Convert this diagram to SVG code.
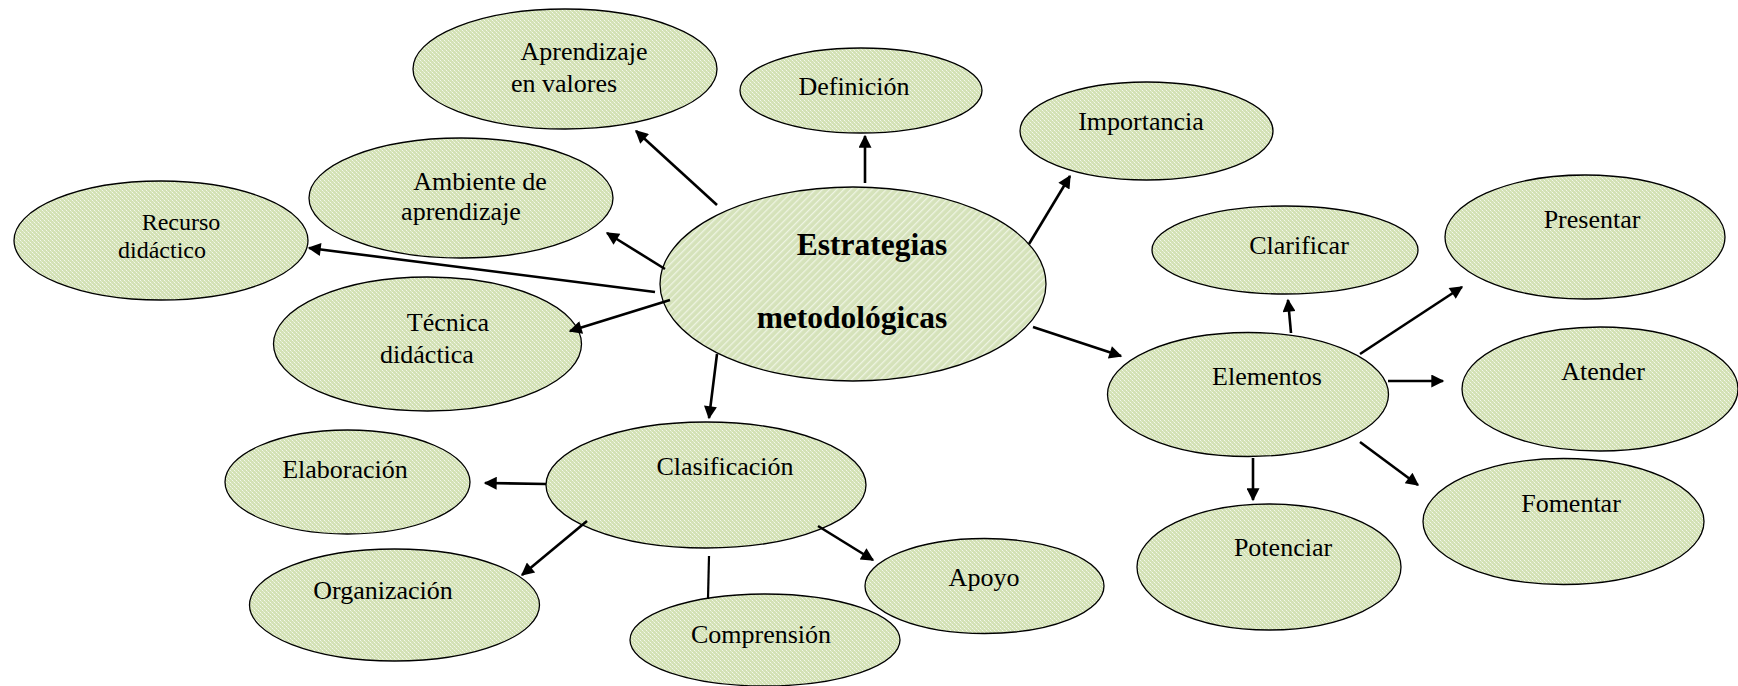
<svg xmlns="http://www.w3.org/2000/svg" width="1738" height="686" viewBox="0 0 1738 686">
<style>
.n{stroke:#000;stroke-width:1.3;fill:url(#chk)}
.c{stroke:#000;stroke-width:1.3;fill:url(#diag)}
.t text{font-size:26px;fill:#000;text-anchor:middle}
.t text.b{font-weight:bold;font-size:31.5px}
.t text.s{font-size:24px}
.e line{stroke:#000;stroke-width:2.6;marker-end:url(#ah)}
.e line.p{marker-end:none;stroke-width:2.2}
</style>
<defs>
<pattern id="chk" width="4" height="4" patternUnits="userSpaceOnUse">
<rect width="4" height="4" fill="#d3e1b5"/>
<rect x="0" y="0" width="1" height="1" fill="#f4f8ec"/>
<rect x="2" y="2" width="1" height="1" fill="#f4f8ec"/>
<rect x="1" y="1" width="1" height="1" fill="#e3ecd2"/>
<rect x="3" y="3" width="1" height="1" fill="#e3ecd2"/>
</pattern>
<pattern id="diag" width="5" height="5" patternUnits="userSpaceOnUse" patternTransform="rotate(-45)">
<rect width="5" height="5" fill="#d5e2ba"/>
<rect x="0" y="0" width="5" height="1.3" fill="#eef4e2"/>
</pattern>
<marker id="ah" viewBox="0 0 10 10" refX="9" refY="5" markerUnits="userSpaceOnUse" markerWidth="15" markerHeight="13" orient="auto">
<path d="M0,0 L10,5 L0,10 Z" fill="#000"/>
</marker>
</defs>

<g class="t" font-family="'Liberation Serif', 'DejaVu Serif', serif">
<g id="n-aprendizaje"><ellipse class="n" cx="565" cy="69" rx="152" ry="60"/><text x="584" y="60">Aprendizaje</text><text x="564" y="92">en valores</text></g>
<g id="n-definicion"><ellipse class="n" cx="861" cy="90.5" rx="121" ry="42.5"/><text x="854" y="95">Definición</text></g>
<g id="n-importancia"><ellipse class="n" cx="1146.5" cy="131" rx="126.5" ry="49"/><text x="1141" y="130">Importancia</text></g>
<g id="n-ambiente"><ellipse class="n" cx="461" cy="198" rx="152" ry="60"/><text x="480" y="190">Ambiente de</text><text x="461" y="220">aprendizaje</text></g>
<g id="n-recurso"><ellipse class="n" cx="161" cy="240.5" rx="147" ry="59.5"/><text class="s" x="181" y="230">Recurso</text><text class="s" x="162" y="258">didáctico</text></g>
<g id="n-tecnica"><ellipse class="n" cx="427.5" cy="344" rx="154" ry="67"/><text x="448" y="331">Técnica</text><text x="427" y="363">didáctica</text></g>
<g id="n-central"><ellipse class="c" cx="853" cy="284" rx="193" ry="97"/><text class="b" x="872" y="255">Estrategias</text><text class="b" x="852" y="328">metodológicas</text></g>
<g id="n-clasificacion"><ellipse class="n" cx="706" cy="485" rx="160" ry="63"/><text x="725" y="475">Clasificación</text></g>
<g id="n-elaboracion"><ellipse class="n" cx="347.5" cy="482" rx="122.5" ry="52"/><text x="345" y="478">Elaboración</text></g>
<g id="n-organizacion"><ellipse class="n" cx="394.5" cy="605" rx="145" ry="56"/><text x="383" y="599">Organización</text></g>
<g id="n-comprension"><ellipse class="n" cx="765" cy="640" rx="135" ry="46"/><text x="761" y="643">Comprensión</text></g>
<g id="n-apoyo"><ellipse class="n" cx="984.5" cy="586" rx="119.5" ry="47.5"/><text x="984" y="586">Apoyo</text></g>
<g id="n-elementos"><ellipse class="n" cx="1248" cy="394.5" rx="140.5" ry="62"/><text x="1267" y="385">Elementos</text></g>
<g id="n-clarificar"><ellipse class="n" cx="1285" cy="250" rx="133" ry="44"/><text x="1299" y="254">Clarificar</text></g>
<g id="n-presentar"><ellipse class="n" cx="1585" cy="237" rx="140" ry="62"/><text x="1592" y="228">Presentar</text></g>
<g id="n-atender"><ellipse class="n" cx="1600" cy="389" rx="138" ry="62"/><text x="1603" y="380">Atender</text></g>
<g id="n-fomentar"><ellipse class="n" cx="1563.5" cy="521.5" rx="140.5" ry="63"/><text x="1571" y="512">Fomentar</text></g>
<g id="n-potenciar"><ellipse class="n" cx="1269" cy="567" rx="132" ry="63"/><text x="1283" y="556">Potenciar</text></g>
</g>

<g id="connectors" class="e">
<line x1="717" y1="205" x2="636" y2="131"/>
<line x1="865" y1="183" x2="865" y2="136"/>
<line x1="1029" y1="244" x2="1070" y2="176"/>
<line x1="665" y1="269" x2="607" y2="233"/>
<line x1="655" y1="292" x2="309" y2="248"/>
<line x1="670" y1="300" x2="570" y2="331"/>
<line x1="717" y1="354" x2="709" y2="418"/>
<line x1="1033" y1="327" x2="1121" y2="356"/>
<line x1="546" y1="484" x2="485" y2="483"/>
<line x1="587" y1="521" x2="522" y2="575"/>
<line class="p" x1="709" y1="556" x2="708" y2="599"/>
<line x1="818" y1="526" x2="873" y2="560"/>
<line x1="1291" y1="333" x2="1288" y2="300"/>
<line x1="1360" y1="354" x2="1462" y2="287"/>
<line x1="1388" y1="381" x2="1443" y2="381"/>
<line x1="1360" y1="442" x2="1418" y2="485"/>
<line x1="1253" y1="458" x2="1253" y2="500"/>
</g>
</svg>
